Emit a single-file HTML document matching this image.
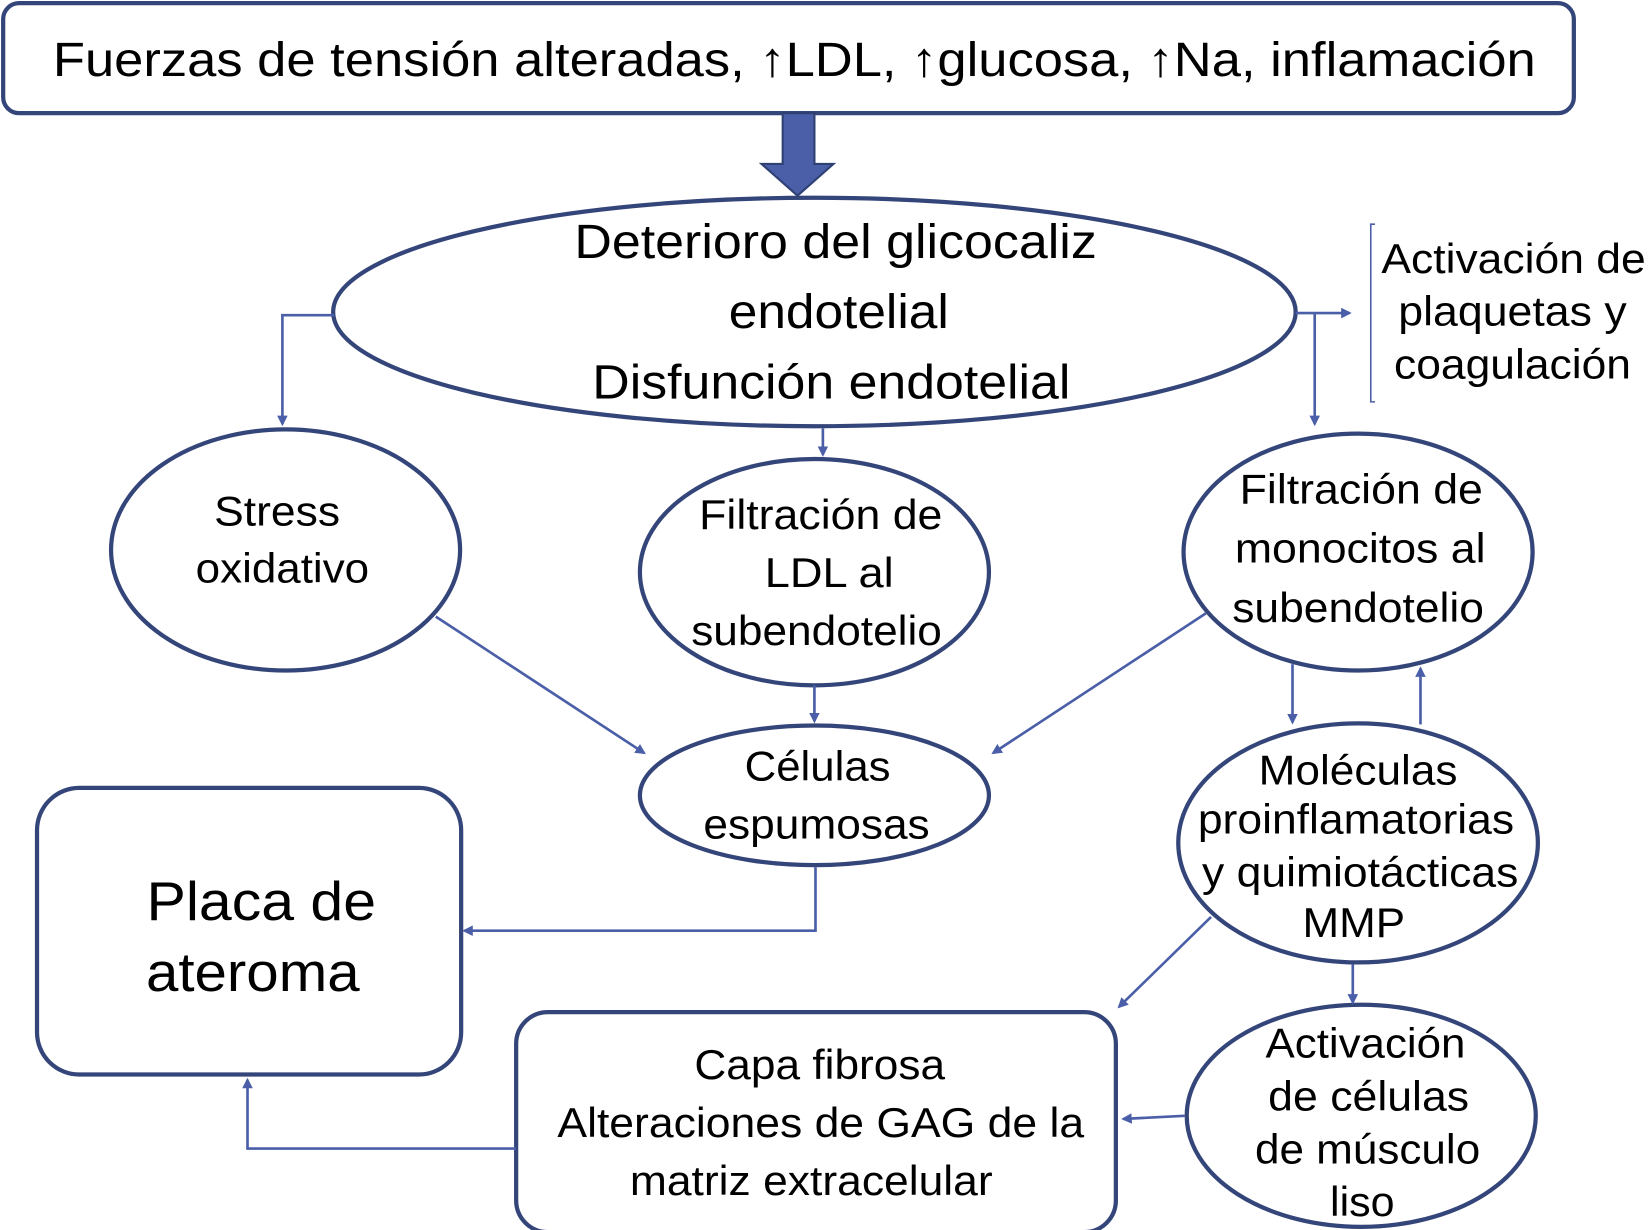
<!DOCTYPE html>
<html><head><meta charset="utf-8"><style>html,body{margin:0;padding:0;background:#fff}svg{display:block}</style></head>
<body>
<svg width="1650" height="1230" viewBox="0 0 1560 1163" preserveAspectRatio="none" xmlns="http://www.w3.org/2000/svg" font-family="Liberation Sans, sans-serif">
<defs>
<marker id="a" markerWidth="10" markerHeight="10" refX="8" refY="5" orient="auto" markerUnits="userSpaceOnUse" viewBox="0 0 10 10"><path d="M0,0 L10,5 L0,10 z" fill="#4a5fa8"/></marker>
</defs>
<g fill="none" stroke="#34457a" stroke-width="4">
<rect x="3" y="3" width="1485" height="104" rx="15"/>
<ellipse cx="770" cy="295" rx="455" ry="108"/>
<ellipse cx="270" cy="520" rx="165" ry="114"/>
<ellipse cx="770" cy="541" rx="165" ry="107"/>
<ellipse cx="1284" cy="522" rx="165" ry="112"/>
<ellipse cx="770" cy="752" rx="165" ry="66"/>
<ellipse cx="1284" cy="797" rx="170" ry="113"/>
<ellipse cx="1287" cy="1055" rx="165" ry="105"/>
<rect x="35" y="745" width="401" height="271" rx="40"/>
<rect x="488" y="957" width="567" height="208" rx="30"/>
</g>
<path d="M740,107 L770,107 L770,155 L788,155 L754,185 L720,155 L740,155 Z" fill="#4a5fa8" stroke="#2f4073" stroke-width="2"/>
<g fill="none" stroke="#4a5fa8" stroke-width="2.5">
<path d="M1300,212 L1296,212 L1296,380 L1300,380" stroke-width="1.5"/>
<path d="M1225,296 L1276,296" marker-end="url(#a)"/>
<path d="M1243,296 L1243,401" marker-end="url(#a)"/>
<path d="M316,298 L267,298 L267,401" marker-end="url(#a)"/>
<path d="M778,405 L778,430" marker-end="url(#a)"/>
<path d="M412,583 L609,712" marker-end="url(#a)"/>
<path d="M1140,580 L939,712" marker-end="url(#a)"/>
<path d="M770,648 L770,682" marker-end="url(#a)"/>
<path d="M771,820 L771,880 L439,880" marker-end="url(#a)"/>
<path d="M1222,628 L1222,683" marker-end="url(#a)"/>
<path d="M1343,685 L1343,632" marker-end="url(#a)"/>
<path d="M1145,867 L1058,952" marker-end="url(#a)"/>
<path d="M1279,912 L1279,948" marker-end="url(#a)"/>
<path d="M1120,1055 L1062,1058" marker-end="url(#a)"/>
<path d="M488,1086 L234,1086 L234,1021" marker-end="url(#a)"/>
</g>
<g fill="#000" text-anchor="middle" lengthAdjust="spacingAndGlyphs">
<text x="751" y="72" font-size="46" textLength="1402" lengthAdjust="spacingAndGlyphs">Fuerzas de tensión alteradas, ↑LDL, ↑glucosa, ↑Na, inflamación</text>
<g font-size="46"><text x="790" y="244" textLength="494" lengthAdjust="spacingAndGlyphs">Deterioro del glicocaliz</text><text x="793" y="310" textLength="208" lengthAdjust="spacingAndGlyphs">endotelial</text><text x="786" y="377" textLength="452" lengthAdjust="spacingAndGlyphs">Disfunción endotelial</text></g>
<g font-size="39"><text x="1431" y="258" textLength="250" lengthAdjust="spacingAndGlyphs">Activación de</text><text x="1430" y="308" textLength="216" lengthAdjust="spacingAndGlyphs">plaquetas y</text><text x="1430" y="358" textLength="224" lengthAdjust="spacingAndGlyphs">coagulación</text></g>
<g font-size="39"><text x="262" y="497" textLength="119" lengthAdjust="spacingAndGlyphs">Stress</text><text x="267" y="551" textLength="164" lengthAdjust="spacingAndGlyphs">oxidativo</text>
<text x="776" y="500" textLength="230" lengthAdjust="spacingAndGlyphs">Filtración de</text><text x="784" y="555" textLength="122" lengthAdjust="spacingAndGlyphs">LDL al</text><text x="772" y="610" textLength="237" lengthAdjust="spacingAndGlyphs">subendotelio</text>
<text x="1287" y="476" textLength="230" lengthAdjust="spacingAndGlyphs">Filtración de</text><text x="1286" y="532" textLength="237" lengthAdjust="spacingAndGlyphs">monocitos al</text><text x="1284" y="588" textLength="238" lengthAdjust="spacingAndGlyphs">subendotelio</text>
<text x="773" y="738" textLength="138" lengthAdjust="spacingAndGlyphs">Células</text><text x="772" y="793" textLength="214" lengthAdjust="spacingAndGlyphs">espumosas</text>
<text x="1284" y="742" textLength="188" lengthAdjust="spacingAndGlyphs">Moléculas</text><text x="1282" y="788" textLength="299" lengthAdjust="spacingAndGlyphs">proinflamatorias</text><text x="1286" y="838" textLength="299" lengthAdjust="spacingAndGlyphs">y quimiotácticas</text><text x="1280" y="886" textLength="97" lengthAdjust="spacingAndGlyphs">MMP</text>
<text x="1291" y="1000" textLength="189" lengthAdjust="spacingAndGlyphs">Activación</text><text x="1294" y="1050" textLength="190" lengthAdjust="spacingAndGlyphs">de células</text><text x="1293" y="1100" textLength="213" lengthAdjust="spacingAndGlyphs">de músculo</text><text x="1288" y="1150" textLength="61" lengthAdjust="spacingAndGlyphs">liso</text>
<text x="775" y="1020" textLength="237" lengthAdjust="spacingAndGlyphs">Capa fibrosa</text><text x="776" y="1075" textLength="498" lengthAdjust="spacingAndGlyphs">Alteraciones de GAG de la</text><text x="767" y="1130" textLength="343" lengthAdjust="spacingAndGlyphs">matriz extracelular</text></g>
<g font-size="52"><text x="247" y="870" textLength="217" lengthAdjust="spacingAndGlyphs">Placa de</text><text x="239" y="937" textLength="202" lengthAdjust="spacingAndGlyphs">ateroma</text></g>
</g>
</svg>
</body></html>
